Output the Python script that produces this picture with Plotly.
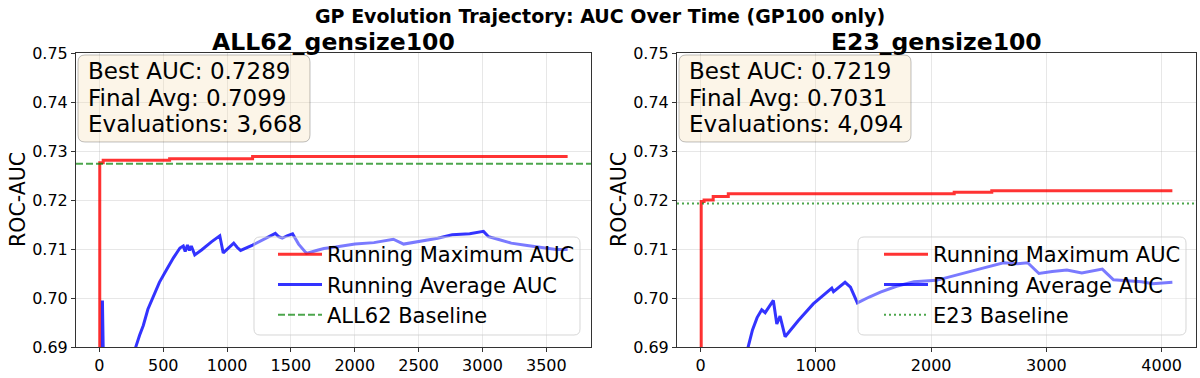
import plotly.graph_objects as go

W, H = 1200, 378

# ---------------- data ----------------
all62_max_x = [0, 3, 30, 550, 1200, 3667]
all62_max_y = [0.62, 0.7276, 0.7281, 0.7284, 0.7289, 0.7289]

all62_avg_x = [0, 22, 24, 27, 60, 150, 285, 315, 344, 380, 422, 470, 527, 580, 631, 657, 672,
               690, 705, 720, 747, 800, 880, 943, 970, 1010, 1052, 1080, 1106, 1200, 1300, 1378,
               1405, 1432, 1470, 1513, 1560, 1622, 1700, 1758, 1850, 2002, 2150, 2302, 2383,
               2500, 2650, 2763, 2900, 3008, 3048, 3120, 3225, 3350, 3450, 3578, 3667]
all62_avg_y = [0.600, 0.660, 0.6995, 0.660, 0.640, 0.665, 0.6900, 0.6924, 0.6944, 0.6977, 0.7003,
               0.7032, 0.7058, 0.7082, 0.7102, 0.7106, 0.7095, 0.7108, 0.7097, 0.7106, 0.7088,
               0.7098, 0.7115, 0.7127, 0.7092, 0.7102, 0.7112, 0.7103, 0.7097, 0.7108, 0.7122,
               0.7132, 0.7125, 0.7122, 0.7127, 0.7131, 0.7110, 0.7091, 0.7097, 0.7101, 0.7104,
               0.7110, 0.7113, 0.7120, 0.7110, 0.7115, 0.7122, 0.7129, 0.7131, 0.7136, 0.7125,
               0.7120, 0.7112, 0.7107, 0.7104, 0.7099, 0.7099]
all62_baseline = 0.7274

e23_max_x = [0, 5, 30, 109, 240, 2200, 2526, 4093]
e23_max_y = [0.62, 0.7197, 0.7200, 0.7207, 0.7213, 0.7216, 0.7219, 0.7219]

e23_avg_x = [0, 100, 250, 414, 450, 490, 530, 560, 600, 631, 661, 689, 733, 848, 977, 1138,
             1153, 1253, 1300, 1360, 1463, 1560, 1700, 1851, 2045, 2250, 2433, 2628, 2750,
             2838, 2935, 3050, 3178, 3307, 3485, 3582, 3700, 3825, 3922, 4093]
e23_avg_y = [0.620, 0.650, 0.675, 0.6900, 0.6935, 0.6960, 0.6976, 0.6970, 0.6985, 0.6995,
             0.6947, 0.6963, 0.6921, 0.6954, 0.6988, 0.7020, 0.7013, 0.7032, 0.7022, 0.6990,
             0.7002, 0.7012, 0.7024, 0.7033, 0.7036, 0.7048, 0.7060, 0.7072, 0.7070, 0.7072,
             0.7050, 0.7054, 0.7057, 0.7051, 0.7059, 0.7037, 0.7035, 0.7033, 0.7029, 0.7032]
e23_baseline = 0.7193

panel_titles = ["ALL62_gensize100", "E23_gensize100"]
baseline_names = ["ALL62 Baseline", "E23 Baseline"]
stats_lines = [["Best AUC: 0.7289", "Final Avg: 0.7099", "Evaluations: 3,668"],
               ["Best AUC: 0.7219", "Final Avg: 0.7031", "Evaluations: 4,094"]]
y_ticks = [0.69, 0.70, 0.71, 0.72, 0.73, 0.74, 0.75]

# ---------------- styling ----------------
FONT = "DejaVu Sans"
RED = "rgba(255,0,0,0.8)"
BLUE = "rgba(0,0,255,0.8)"
GREEN = "rgba(0,128,0,0.7)"


def px(x):
    return x / W


def py(y):
    return 1 - y / H


panels = [
    dict(x0=76, x1=591, xr=[-183, 3850], dtick=500,
         mx=all62_max_x, my=all62_max_y, ax=all62_avg_x, ay=all62_avg_y,
         base=all62_baseline, dash="7px,3px", leg="legend", lbox=(254, 580)),
    dict(x0=677, x1=1196, xr=[-205, 4298], dtick=1000,
         mx=e23_max_x, my=e23_max_y, ax=e23_avg_x, ay=e23_avg_y,
         base=e23_baseline, dash="2px,3px", leg="legend2", lbox=(858, 1186)),
]
YT, YB = 53, 347

fig = go.Figure()
annotations = []
shapes = []


def rounded_box(x0, y0, x1, y1, r):
    def P(x, y):
        return f"{px(x):.5f},{py(y):.5f}"
    return (f"M {P(x0 + r, y0)} L {P(x1 - r, y0)} Q {P(x1, y0)} {P(x1, y0 + r)} "
            f"L {P(x1, y1 - r)} Q {P(x1, y1)} {P(x1 - r, y1)} "
            f"L {P(x0 + r, y1)} Q {P(x0, y1)} {P(x0, y1 - r)} "
            f"L {P(x0, y0 + r)} Q {P(x0, y0)} {P(x0 + r, y0)} Z")


for i, p in enumerate(panels):
    xa = "x" if i == 0 else "x2"
    ya = "y" if i == 0 else "y2"
    fig.add_trace(go.Scatter(x=p["mx"], y=p["my"], mode="lines", line_shape="hv",
                             line=dict(color=RED, width=3), name="Running Maximum AUC",
                             xaxis=xa, yaxis=ya, legend=p["leg"]))
    fig.add_trace(go.Scatter(x=p["ax"], y=p["ay"], mode="lines",
                             line=dict(color=BLUE, width=3), name="Running Average AUC",
                             xaxis=xa, yaxis=ya, legend=p["leg"]))
    fig.add_trace(go.Scatter(x=p["xr"], y=[p["base"], p["base"]], mode="lines",
                             line=dict(color=GREEN, width=2, dash=p["dash"]),
                             name=baseline_names[i],
                             xaxis=xa, yaxis=ya, legend=p["leg"]))

    axis_common = dict(showline=True, linecolor="#333333", linewidth=1, mirror=True,
                       ticks="outside", ticklen=4, tickcolor="#333333", automargin=False,
                       showgrid=True, gridcolor="rgba(176,176,176,0.3)", gridwidth=1,
                       zeroline=False, tickfont=dict(family=FONT, size=16, color="black"))
    xkey = "xaxis" if i == 0 else "xaxis2"
    ykey = "yaxis" if i == 0 else "yaxis2"
    fig.update_layout({
        xkey: dict(domain=[px(p["x0"]), px(p["x1"])], range=p["xr"], dtick=p["dtick"],
                   tick0=0, anchor=ya, **axis_common),
        ykey: dict(domain=[py(YB), py(YT)], range=[0.69, 0.75], tickvals=y_ticks,
                   tickformat=".2f", anchor=xa, **axis_common),
    })

    annotations.append(dict(text=f"<b>{panel_titles[i]}</b>", x=px((p["x0"] + p["x1"]) / 2),
                            y=py(42), xref="paper", yref="paper", showarrow=False,
                            xanchor="center", yanchor="middle",
                            font=dict(family=FONT, size=23.5, color="black")))
    annotations.append(dict(text="ROC-AUC", x=px(p["x0"] - 58), y=py((YT + YB) / 2),
                            xref="paper", yref="paper", showarrow=False, textangle=-90,
                            xanchor="center", yanchor="middle",
                            font=dict(family=FONT, size=20.5, color="black")))
    # stats box
    shapes.append(dict(type="path", path=rounded_box(p["x0"] + 2, 55, p["x0"] + 234, 142, 7),
                       xref="paper", yref="paper", layer="above",
                       fillcolor="rgba(245,222,179,0.3)",
                       line=dict(color="rgba(0,0,0,0.25)", width=1)))
    for k, line_txt in enumerate(stats_lines[i]):
        annotations.append(dict(text=line_txt, x=px(p["x0"] + 9.5), y=py(71 + 26.7 * k),
                                xref="paper", yref="paper", showarrow=False, align="left",
                                xanchor="left", yanchor="middle",
                                font=dict(family=FONT, size=23, color="black")))
    # legend frame
    lx0, lx1 = p["lbox"]
    shapes.append(dict(type="path", path=rounded_box(lx0, 237, lx1, 335, 6),
                       xref="paper", yref="paper", layer="above",
                       fillcolor="rgba(255,255,255,0.35)",
                       line=dict(color="rgba(204,204,204,0.8)", width=1)))

annotations.append(dict(text="<b>GP Evolution Trajectory: AUC Over Time (GP100 only)</b>",
                        x=0.5, y=py(16), xref="paper", yref="paper", showarrow=False,
                        xanchor="center", yanchor="middle",
                        font=dict(family=FONT, size=19, color="black")))

legend_common = dict(bgcolor="rgba(0,0,0,0)", borderwidth=0,
                     font=dict(family=FONT, size=21, color="black"),
                     xanchor="right", yanchor="bottom", xref="paper", yref="paper",
                     itemwidth=44, tracegroupgap=0)
fig.update_layout(
    width=W, height=H,
    margin=dict(l=0, r=0, t=0, b=0, pad=0, autoexpand=False),
    paper_bgcolor="white", plot_bgcolor="white",
    showlegend=True,
    legend=dict(x=px(580), y=py(335), **legend_common),
    legend2=dict(x=px(1186), y=py(335), **legend_common),
    annotations=annotations,
    shapes=shapes,
    font=dict(family=FONT),
)

fig.write_html("out.html", config={"displayModeBar": False},
               post_script="document.body.style.margin='0px';"
                           "document.body.style.overflow='hidden';")
